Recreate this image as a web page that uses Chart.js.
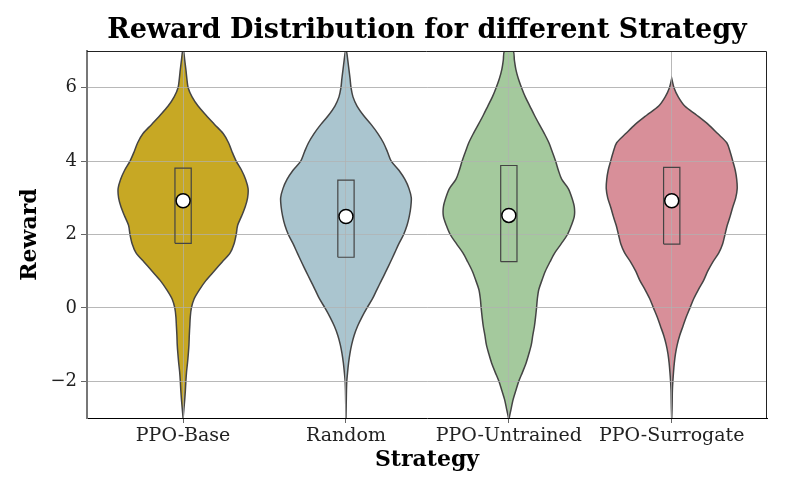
<!DOCTYPE html>
<html>
<head>
<meta charset="utf-8">
<script src="https://cdn.jsdelivr.net/npm/chart.js@4.4.1/dist/chart.umd.min.js"></script>
<style>
  html, body { margin: 0; padding: 0; background: #fff; }
  #wrap { width: 788px; height: 493px; }
</style>
</head>
<body>
<div id="wrap"><canvas id="violin"></canvas></div>
<script>
const strategies = ['PPO-Base', 'Random', 'PPO-Untrained', 'PPO-Surrogate'];

// reward levels where the violin half-widths were read
const rewardLevels = [-3, -2.75, -2.5, -2.25, -2, -1.75, -1.5, -1.25, -1, -0.75, -0.5, -0.25,
  0, 0.25, 0.5, 0.75, 1, 1.25, 1.5, 1.75, 2, 2.25, 2.5, 2.75, 3, 3.25, 3.5, 3.75,
  4, 4.25, 4.5, 4.75, 5, 5.25, 5.5, 5.75, 6, 6.25, 6.5, 6.75, 7];

// half-width of each violin (density) at every reward level
const baseWidth = [0, 0.005, 0.010, 0.014, 0.017, 0.021, 0.027, 0.032, 0.036, 0.038, 0.041, 0.044,
  0.051, 0.068, 0.101, 0.141, 0.190, 0.240, 0.289, 0.313, 0.326, 0.335, 0.359, 0.381, 0.396, 0.399,
  0.384, 0.359, 0.326, 0.301, 0.279, 0.246, 0.193, 0.141, 0.092, 0.055, 0.031, 0.023, 0.017, 0.010, 0.003];
const randomWidth = [0, 0.001, 0.002, 0.003, 0.005, 0.010, 0.016, 0.024, 0.035, 0.050, 0.071, 0.098,
  0.129, 0.163, 0.190, 0.218, 0.246, 0.273, 0.299, 0.325, 0.354, 0.375, 0.389, 0.398, 0.401, 0.387,
  0.362, 0.325, 0.278, 0.255, 0.230, 0.196, 0.154, 0.107, 0.068, 0.043, 0.031, 0.025, 0.018, 0.011, 0.003];
const untrainedWidth = [0.002, 0.014, 0.026, 0.043, 0.061, 0.084, 0.106, 0.123, 0.138, 0.147, 0.157, 0.164,
  0.170, 0.175, 0.184, 0.203, 0.224, 0.252, 0.282, 0.322, 0.360, 0.384, 0.402, 0.402, 0.387, 0.365,
  0.325, 0.304, 0.287, 0.267, 0.246, 0.218, 0.187, 0.157, 0.129, 0.101, 0.078, 0.058, 0.043, 0.034, 0.026];
const surrogateWidth = [0, 0.002, 0.003, 0.004, 0.007, 0.011, 0.016, 0.023, 0.034, 0.049, 0.069, 0.089,
  0.112, 0.135, 0.164, 0.196, 0.221, 0.252, 0.289, 0.313, 0.327, 0.341, 0.359, 0.375, 0.393, 0.402,
  0.399, 0.390, 0.375, 0.359, 0.338, 0.282, 0.224, 0.154, 0.080, 0.040, 0.014, 0, null, null, null];

const q1 = [1.76, 1.38, 1.26, 1.74];
const q3 = [3.81, 3.48, 3.88, 3.83];
const medians = [2.92, 2.49, 2.52, 2.92];

const yTicks = [-2, 0, 2, 4, 6];

const widths = [baseWidth, randomWidth, untrainedWidth, surrogateWidth];
const colors = ['#c7a824', '#aac5cf', '#a4c99d', '#d88f99'];
const boxHalf = 0.05;
const serif = "'DejaVu Serif', 'Liberation Serif', serif";

function violinOutline(i, w) {
  const pts = [];
  rewardLevels.forEach((y, k) => { if (w[k] !== null) pts.push({ x: i + w[k], y }); });
  for (let k = rewardLevels.length - 1; k >= 0; k--) {
    if (w[k] !== null) pts.push({ x: i - w[k], y: rewardLevels[k] });
  }
  return pts;
}

const datasets = [];
strategies.forEach((name, i) => {
  datasets.push({
    violin: true,
    label: name,
    data: violinOutline(i, widths[i]),
    showLine: true,
    fill: 'shape',
    backgroundColor: colors[i],
    borderColor: '#444',
    borderWidth: 1.5,
    pointRadius: 0,
    tension: 0.3,
    order: 2
  });
  datasets.push({
    label: name + ' box',
    data: [
      { x: i - boxHalf, y: q1[i] }, { x: i + boxHalf, y: q1[i] },
      { x: i + boxHalf, y: q3[i] }, { x: i - boxHalf, y: q3[i] },
      { x: i - boxHalf, y: q1[i] }
    ],
    showLine: true,
    fill: false,
    borderColor: '#444',
    borderWidth: 1.2,
    pointRadius: 0,
    tension: 0,
    order: 1
  });
});
datasets.push({
  label: 'median',
  data: medians.map((m, i) => ({ x: i, y: m })),
  pointRadius: 7,
  pointBackgroundColor: '#fff',
  pointBorderColor: '#000',
  pointBorderWidth: 1.5,
  order: 0
});

// grid drawn again over the violins, like the reference
const gridOver = {
  id: 'gridOver',
  beforeDatasetsDraw(chart) { chart.$violinsDone = 0; },
  afterDatasetDraw(chart, args) {
    if (!chart.data.datasets[args.index].violin) return;
    chart.$violinsDone++;
    if (chart.$violinsDone === strategies.length) {
      const a = chart.chartArea, ctx = chart.ctx;
      ctx.save();
      ctx.beginPath();
      ctx.rect(a.left, a.top, a.right - a.left, a.bottom - a.top);
      ctx.clip();
      chart.scales.x.drawGrid(a);
      chart.scales.y.drawGrid(a);
      ctx.restore();
    }
  }
};

const frame = {
  id: 'frame',
  afterDraw(chart) {
    const a = chart.chartArea, ctx = chart.ctx;
    ctx.save();
    ctx.strokeStyle = '#222';
    ctx.lineWidth = 1;
    ctx.beginPath();
    ctx.moveTo(a.left, a.top + 0.5);
    ctx.lineTo(a.right - 0.5, a.top + 0.5);
    ctx.lineTo(a.right - 0.5, a.bottom);
    ctx.stroke();
    ctx.restore();
  }
};

new Chart(document.getElementById('violin'), {
  type: 'scatter',
  data: { datasets },
  plugins: [gridOver, frame],
  options: {
    responsive: true,
    maintainAspectRatio: false,
    animation: false,
    events: [],
    layout: { padding: { left: 0, right: 21, top: 0, bottom: 0 } },
    plugins: {
      legend: { display: false },
      tooltip: { enabled: false },
      title: {
        display: true,
        text: 'Reward Distribution for different Strategy',
        fullSize: false,
        color: '#000',
        font: { family: serif, size: 27, weight: 'bold' },
        padding: { top: 15, bottom: 3.6 }
      }
    },
    scales: {
      x: {
        type: 'linear',
        min: -0.59,
        max: 3.585,
        afterBuildTicks: s => { s.ticks = strategies.map((_, i) => ({ value: i })); },
        afterFit: s => { s.height = 75; },
        ticks: {
          callback: v => strategies[v],
          color: '#222',
          font: { family: serif, size: 19 },
          padding: 2,
          autoSkip: false,
          maxRotation: 0
        },
        grid: { color: 'rgba(176,176,176,0.7)', tickColor: '#666', tickLength: 5 },
        border: { color: '#000', width: 1 },
        title: {
          display: true,
          text: 'Strategy',
          color: '#000',
          font: { family: serif, size: 22, weight: 'bold' },
          padding: { top: 0, bottom: 20 }
        }
      },
      y: {
        min: -3,
        max: 7,
        afterBuildTicks: s => { s.ticks = yTicks.map(v => ({ value: v })); },
        afterFit: s => { s.width = 87; },
        ticks: {
          callback: v => (v < 0 ? '\u2212' + Math.abs(v) : String(v)),
          color: '#222',
          font: { family: serif, size: 18 },
          padding: 4
        },
        grid: { color: 'rgba(176,176,176,0.7)', tickColor: '#666', tickLength: 6 },
        border: { color: '#777', width: 2 },
        title: {
          display: true,
          text: 'Reward',
          color: '#000',
          font: { family: serif, size: 22, weight: 'bold' },
          padding: { top: 17, bottom: 0 }
        }
      }
    }
  }
});
</script>
</body>
</html>
